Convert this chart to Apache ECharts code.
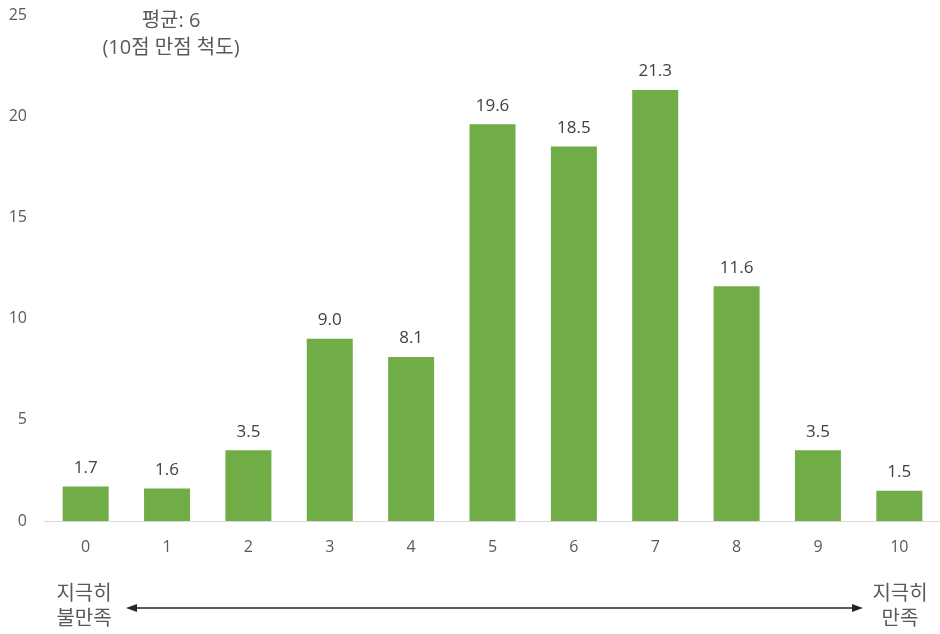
<!DOCTYPE html>
<html>
<head>
<meta charset="utf-8">
<script src="https://cdn.jsdelivr.net/npm/echarts@6/dist/echarts.min.js"></script>
<style>html,body{margin:0;padding:0;background:#fff}#c{width:940px;height:634px}</style>
</head>
<body>
<div id="c"></div>
<script>
var categories = ['0','1','2','3','4','5','6','7','8','9','10'];
var values = [1.7, 1.6, 3.5, 9.0, 8.1, 19.6, 18.5, 21.3, 11.6, 3.5, 1.5];
var yTicks = [0, 5, 10, 15, 20, 25];
var noteLines = ['평균: 6', '(10점 만점 척도)'];
var leftEnd = ['지극히', '불만족'];
var rightEnd = ['지극히', '만족'];

var FONT = '"Open Sans", "Noto Sans CJK KR", sans-serif';
var chart = echarts.init(document.getElementById('c'));
chart.setOption({
  animation: false,
  grid: { left: 45, right: -2, top: 15, bottom: 113 },
  xAxis: {
    type: 'category',
    data: categories,
    axisLine: { lineStyle: { color: '#d9d9d9', width: 1 } },
    axisTick: { show: false },
    axisLabel: { color: '#595959', fontSize: 16, margin: 18, fontFamily: FONT }
  },
  yAxis: {
    type: 'value',
    min: yTicks[0], max: yTicks[yTicks.length - 1], interval: 5,
    splitLine: { show: false },
    axisLine: { show: false },
    axisTick: { show: false },
    axisLabel: { color: '#595959', fontSize: 16, margin: 18, fontFamily: FONT }
  },
  series: [{
    type: 'bar',
    data: values,
    barWidth: 46,
    itemStyle: { color: '#70AD47' },
    label: {
      show: true, position: 'top', distance: 10,
      color: '#404040', fontSize: 17, fontFamily: FONT,
      formatter: function (p) { return p.value.toFixed(1); }
    }
  }],
  graphic: [
    { type: 'text', x: 171, y: 8, style: { text: noteLines.join('\n'), fill: '#595959', font: '20px ' + FONT, textAlign: 'center', lineHeight: 27 } },
    { type: 'text', x: 84, y: 582, style: { text: leftEnd.join('\n'), fill: '#595959', font: '20px ' + FONT, textAlign: 'center', lineHeight: 25 } },
    { type: 'text', x: 900, y: 582, style: { text: rightEnd.join('\n'), fill: '#595959', font: '20px ' + FONT, textAlign: 'center', lineHeight: 25 } },
    { type: 'line', shape: { x1: 133, y1: 608, x2: 856, y2: 608 }, style: { stroke: '#262626', lineWidth: 1.3 } },
    { type: 'polygon', shape: { points: [[126, 608], [137, 604], [137, 612]] }, style: { fill: '#262626' } },
    { type: 'polygon', shape: { points: [[863, 608], [852, 604], [852, 612]] }, style: { fill: '#262626' } }
  ]
});
</script>
</body>
</html>
